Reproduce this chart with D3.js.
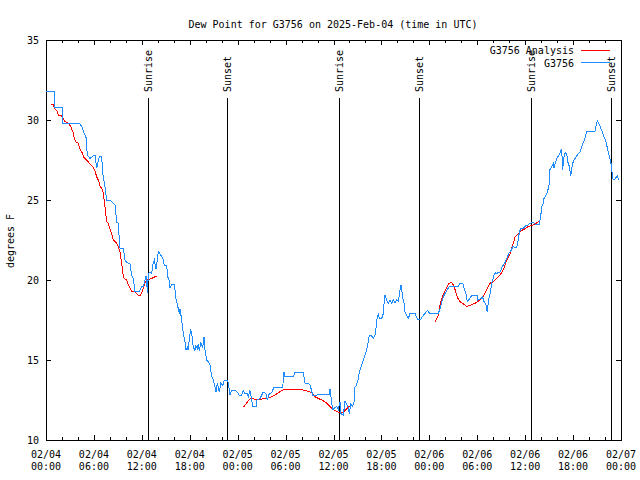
<!DOCTYPE html>
<html><head><meta charset="utf-8">
<script src="https://cdn.jsdelivr.net/npm/d3@7"></script>
<style>
body{margin:0;background:#fff}
text{font-family:"DejaVu Sans Mono",monospace;font-size:10px;fill:#000}
</style>
</head><body>
<svg id="chart" width="640" height="480"></svg>
<script>
// ---------------- data ----------------
const chartTitle = "Dew Point for G3756 on 2025-Feb-04 (time in UTC)";
const yAxisLabel = "degrees F";
const seriesNames = ["G3756 Analysis", "G3756"];
const seriesColors = ["#ff0000", "#1e8cff"];
const yTickValues = [10, 15, 20, 25, 30, 35];
const xMajorHours = [0, 6, 12, 18, 24, 30, 36, 42, 48, 54, 60, 66, 72];   // hours after 2025-02-04 00:00 UTC
const xMinorHours = d3.range(0, 73, 2);
const sunHours  = [12.8, 22.7, 36.75, 46.72, 60.77, 70.8];
const sunLabels = ["Sunrise", "Sunset", "Sunrise", "Sunset", "Sunrise", "Sunset"];

// observations (hours after start, dew point °F)
const obsHours = [0,1.04,1.05,2.04,2.05,4.17,4.47,4.67,5.01,5.17,5.51,5.92,6.14,6.35,6.67,6.97,7.1,7.39,7.6,8.01,
8.43,8.64,8.85,9.05,9.18,9.27,9.68,9.89,10.1,10.52,10.73,10.93,11.14,11.68,11.98,12.18,12.4,12.52,12.71,12.81,
13.02,13.23,13.44,13.56,13.77,13.94,14.06,14.28,14.49,14.69,14.81,15.11,15.24,15.4,15.53,15.74,16.03,16.15,16.28,16.57,
16.69,16.78,16.99,17.12,17.28,17.41,17.53,17.69,17.82,17.94,18.12,18.24,18.37,18.44,18.66,18.78,18.95,19.07,19.2,19.37,
19.5,19.62,19.78,19.91,20.12,20.32,20.54,20.75,20.95,21.16,21.29,21.45,21.58,21.7,21.88,22.13,22.29,22.63,22.75,22.83,
23.04,23.25,23.67,23.95,24.17,24.5,24.71,24.92,25.2,25.33,25.54,25.75,25.88,26.3,26.38,26.8,27.21,27.55,27.71,27.96,
28.26,28.55,29.64,29.8,29.93,30.14,30.97,31.18,32.22,32.43,32.85,33.06,33.4,35.47,35.56,35.78,35.9,36.4,36.6,36.82,
36.94,37.23,37.44,37.65,37.85,37.98,38.15,38.4,38.57,38.69,38.9,39.11,39.23,39.41,39.53,39.74,39.86,40.07,40.23,40.36,
40.48,40.78,40.98,41.2,41.32,41.41,41.61,41.74,42.04,42.24,42.36,42.45,42.66,42.86,43.07,43.29,43.49,43.7,43.91,44.12,
44.33,44.45,44.54,44.67,44.83,44.95,45.17,45.37,45.58,46.21,46.5,46.92,47.25,47.46,47.75,48.08,49.12,49.34,49.55,49.75,
49.96,50.25,50.5,51.63,51.84,52.18,52.34,52.59,52.76,53.01,53.31,54.01,54.03,54.35,54.68,54.76,54.85,55.1,55.18,55.26,
55.39,55.51,55.6,55.69,55.81,55.94,56.1,56.22,56.44,56.64,56.85,57.06,57.27,57.48,57.69,58.01,58.31,58.44,58.66,58.94,
59.14,59.27,59.44,59.69,60.11,60.39,60.61,61.02,61.23,61.77,61.95,62.07,62.27,62.36,62.57,62.7,62.82,62.9,63.02,63.11,
63.32,63.52,63.61,63.74,63.95,64.15,64.36,64.57,64.7,64.86,64.99,65.2,65.33,65.53,65.7,65.83,65.95,66.12,66.37,66.65,
66.87,67.08,67.28,67.49,67.71,68.74,68.87,69.03,69.21,69.46,69.71,69.87,70.12,70.29,70.54,70.72,70.84,70.97,71.13,71.38,
71.55,71.68];
const obsDewpt = [31.8,31.8,30.8,30.8,29.8,29.8,29.6,29.3,28.9,27.8,27.6,27.75,27.8,27.0,27.7,27.7,26.7,25.8,25.0,25.0,
24.8,24.7,23.6,23.55,22.5,22.0,22.0,21.25,21.1,21.0,20.3,20.1,19.3,19.3,19.6,19.6,20.0,20.25,19.2,20.4,
20.5,20.4,21.1,21.25,20.7,21.25,21.8,21.6,21.5,21.25,20.9,20.9,20.2,20.0,19.5,19.75,19.75,19.4,18.8,18.2,
17.9,18.2,17.5,16.9,16.45,16.1,15.6,15.8,15.6,16.35,16.9,16.7,16.1,15.8,15.6,15.9,15.7,16.0,15.55,16.1,
15.9,15.8,16.45,15.6,15.0,14.9,14.7,13.95,13.75,13.3,13.0,13.55,13.3,13.0,13.55,13.4,13.7,13.75,13.75,13.55,
12.8,13.1,13.1,13.0,12.8,12.8,13.1,12.9,12.9,12.7,13.1,12.5,12.1,12.1,12.5,12.6,13.0,12.9,12.5,12.9,
12.95,13.3,13.3,14.25,13.95,13.95,13.95,14.25,14.25,13.55,13.55,13.45,12.8,12.85,13.2,12.3,11.9,12.1,11.9,12.4,
11.65,11.55,12.4,12.25,12.0,11.65,12.25,12.1,12.4,13.3,13.45,13.85,14.2,14.5,14.7,15.0,15.2,15.5,15.8,16.15,
16.55,16.5,16.35,16.55,17.0,17.5,17.9,17.6,17.6,17.9,18.75,19.05,18.75,18.55,18.75,18.55,18.75,18.55,18.75,18.65,
19.4,19.7,19.4,18.85,18.55,18.0,17.8,17.6,17.9,17.9,17.55,17.55,17.8,17.9,18.1,17.9,17.9,18.2,18.65,18.95,
19.15,19.4,19.6,19.6,19.8,19.8,19.5,19.15,18.65,18.8,19.05,19.05,18.75,18.8,18.95,18.75,18.65,18.45,18.2,18.0,
18.65,18.95,19.15,19.4,19.8,20.0,20.3,20.45,20.4,20.5,20.5,20.75,20.95,21.1,21.35,21.7,21.9,22.1,22.05,22.05,
22.5,23.0,23.2,23.2,23.4,23.45,23.55,23.6,23.5,23.5,24.0,24.55,24.8,25.1,25.25,25.4,25.6,25.7,26.05,26.9,
27.1,27.3,27.0,27.25,27.6,27.75,27.95,28.2,26.9,27.7,27.95,27.9,27.4,27.1,26.5,27.0,27.3,27.5,27.7,27.9,
28.0,28.3,28.6,28.85,29.3,29.3,29.6,29.95,29.8,29.5,29.2,28.95,28.65,28.25,27.7,27.4,26.9,26.35,26.25,26.4,
26.5,26.25];

// analysis (null = gap between runs)
const anaHours = [0.63,0.91,1.13,1.34,1.54,1.97,2.17,2.38,2.79,3.09,3.22,3.42,3.54,3.72,4.04,4.17,4.35,4.6,4.67,5.1,
5.51,5.85,6.14,6.35,6.55,6.76,7.1,7.26,7.6,7.8,8.01,8.23,8.43,8.64,8.85,9.05,9.27,9.48,9.68,9.89,
10.1,10.31,10.52,10.73,11.14,11.36,11.56,11.81,11.98,12.18,12.4,12.61,12.94,13.23,13.44,13.65,13.86,
null,
24.71,25.04,25.33,25.63,25.88,26.38,26.8,27.64,28.26,28.68,29.09,29.51,29.8,31.81,32.43,33.06,33.4,33.68,34.1,34.72,
35.15,35.56,35.9,36.4,36.82,37.15,37.44,37.85,38.1,
null,
48.75,48.92,49.12,49.34,49.55,49.75,49.96,50.17,50.5,50.8,51.0,51.22,51.43,51.63,51.84,52.26,52.68,53.09,53.51,53.93,
54.35,54.76,55.18,55.6,56.01,56.44,56.85,57.27,57.69,58.1,58.31,58.52,58.73,59.14,59.35,59.57,59.98,60.39,60.82,61.23,
61.52,61.77];
const anaDewpt = [31.0,30.95,30.7,30.6,30.3,30.25,30.1,29.9,29.8,29.6,29.4,29.2,28.85,28.65,28.55,28.3,28.1,27.9,27.7,27.5,
27.25,27.1,26.8,26.45,26.25,25.9,25.6,25.1,23.65,23.55,23.2,22.9,22.5,22.4,22.3,22.1,21.75,21.05,20.2,20.05,
20.0,19.7,19.5,19.3,19.25,19.15,19.05,19.05,19.2,19.5,19.8,20.0,20.05,20.1,20.15,20.2,20.25,
null,
12.05,12.25,12.45,12.6,12.6,12.5,12.55,12.6,12.7,12.8,12.95,13.1,13.15,13.15,13.1,13.0,12.9,12.7,12.6,12.45,
12.3,12.1,11.9,11.8,11.7,11.7,11.85,12.05,12.15,
null,
17.4,17.6,17.8,18.45,18.8,19.1,19.3,19.55,19.8,19.85,19.7,19.4,19.05,18.8,18.65,18.5,18.35,18.4,18.5,18.6,
18.75,18.95,19.4,19.8,19.9,20.1,20.3,20.65,21.25,21.6,22.0,22.3,22.7,22.9,23.0,23.1,23.2,23.35,23.4,23.5,
23.6,23.65];

// ---------------- chart ----------------
const svg = d3.select("#chart");
const L = 46, R = 621, T = 40, B = 440;
const t0 = Date.UTC(2025, 1, 4);
const toDate = h => new Date(t0 + h * 3600000);

const x = d3.scaleUtc().domain([toDate(0), toDate(72)]).range([L, R]);
const y = d3.scaleLinear().domain([10, 35]).range([B, T]);

svg.append("rect").attr("width", 640).attr("height", 480).attr("fill", "#fff");

// title
svg.append("text").attr("x", 333).attr("y", 28).attr("text-anchor", "middle").text(chartTitle);

// y label
svg.append("text").attr("transform", "translate(13.5,241) rotate(-90)")
  .attr("text-anchor", "middle").text(yAxisLabel);

const g = svg.append("g").attr("shape-rendering", "crispEdges");

function clean(sel) { sel.select(".domain").remove(); sel.selectAll("line").attr("stroke", "#000"); }

// x ticks (minor + major), bottom and top, pointing inward
g.append("g").attr("transform", `translate(0,${B})`)
  .call(d3.axisBottom(x).tickValues(xMinorHours.map(toDate)).tickSize(-3).tickFormat(""))
  .call(clean);
g.append("g").attr("transform", `translate(0,${B})`)
  .call(d3.axisBottom(x).tickValues(xMajorHours.map(toDate)).tickSize(-5).tickFormat(""))
  .call(clean);
g.append("g").attr("transform", `translate(0,${T})`)
  .call(d3.axisTop(x).tickValues(xMinorHours.map(toDate)).tickSize(-3).tickFormat(""))
  .call(clean);
g.append("g").attr("transform", `translate(0,${T})`)
  .call(d3.axisTop(x).tickValues(xMajorHours.map(toDate)).tickSize(-5).tickFormat(""))
  .call(clean);

// y ticks
const yl = g.append("g").attr("transform", `translate(${L},0)`)
  .call(d3.axisLeft(y).tickValues(yTickValues).tickSize(-5).tickPadding(7).tickFormat(d3.format("d")));
clean(yl);
yl.selectAll("text").attr("font-family", null).attr("font-size", null);
g.append("g").attr("transform", `translate(${R},0)`)
  .call(d3.axisRight(y).tickValues(yTickValues).tickSize(-5).tickFormat(""))
  .call(clean);

// x tick labels (two lines)
const fmtDay = d3.utcFormat("%m/%d"), fmtTime = d3.utcFormat("%H:%M");
const xl = svg.append("g");
xMajorHours.forEach(h => {
  const d = toDate(h);
  const t = xl.append("text").attr("text-anchor", "middle");
  t.append("tspan").attr("x", x(d)).attr("y", 458).text(fmtDay(d));
  t.append("tspan").attr("x", x(d)).attr("y", 470).text(fmtTime(d));
});

// series
const anaData = anaHours.map((h, i) => ({ h, v: anaDewpt[i] }));
const obsData = obsHours.map((h, i) => ({ h, v: obsDewpt[i] }));
const line = d3.line()
  .defined(d => d.h !== null && d.v !== null)
  .x(d => x(toDate(d.h))).y(d => y(d.v));

svg.append("path").datum(anaData).attr("d", line)
  .attr("fill", "none").attr("stroke", seriesColors[0]).attr("stroke-width", 1)
  .attr("shape-rendering", "crispEdges");
svg.append("path").datum(obsData).attr("d", line)
  .attr("fill", "none").attr("stroke", seriesColors[1]).attr("stroke-width", 1)
  .attr("shape-rendering", "crispEdges");

// sunrise / sunset markers
sunHours.forEach((h, i) => {
  const sx = x(toDate(h));
  g.append("line").attr("x1", sx).attr("x2", sx).attr("y1", 98).attr("y2", B).attr("stroke", "#000");
  svg.append("text").attr("transform", `translate(${sx + 3.5},92) rotate(-90)`).text(sunLabels[i]);
});

// border
g.append("rect").attr("x", L).attr("y", T).attr("width", R - L).attr("height", B - T)
  .attr("fill", "none").attr("stroke", "#000");

// legend
seriesNames.forEach((name, i) => {
  const ly = 50 + i * 12.5;
  svg.append("text").attr("x", 574).attr("y", ly + 4).attr("text-anchor", "end").text(name);
  svg.append("line").attr("x1", 581).attr("x2", 610).attr("y1", ly).attr("y2", ly)
    .attr("stroke", seriesColors[i]).attr("shape-rendering", "crispEdges");
});
</script>
</body></html>
